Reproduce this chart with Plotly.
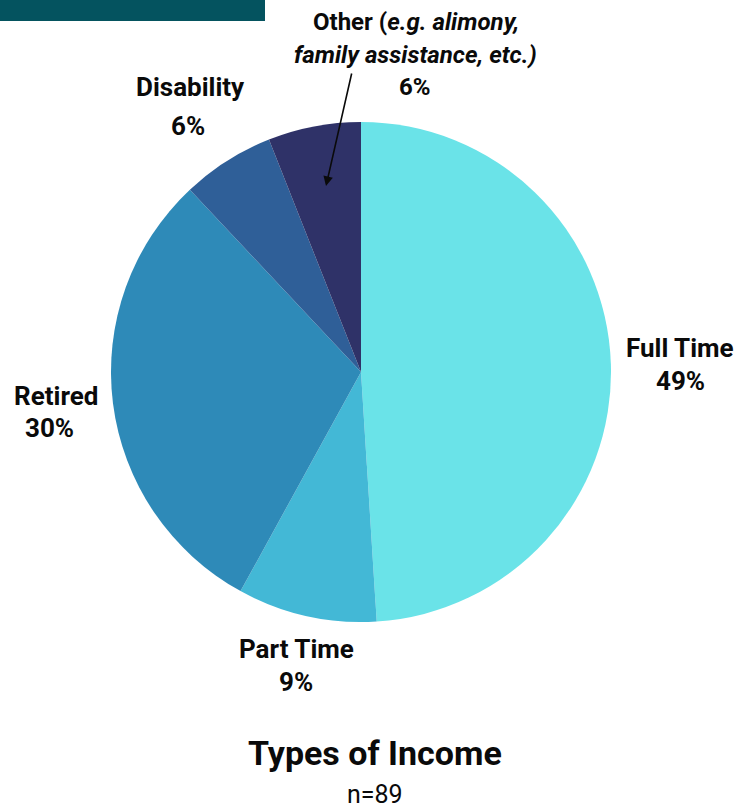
import plotly.graph_objects as go

# ---- data ----
categories = ["Full Time", "Part Time", "Retired", "Disability", "Other"]
percentages = [49, 9, 30, 6, 6]
colors = ["#6AE3E8", "#43B8D6", "#2E8AB8", "#2F5F98", "#2F3268"]
title_text = "Types of Income"
subtitle_text = "n=89"

W, H = 736, 811

def px(x):
    return x / W

def py(y):
    return 1 - y / H

fig = go.Figure()
fig.add_trace(go.Pie(
    labels=categories,
    values=percentages,
    sort=False,
    direction="clockwise",
    rotation=0,
    marker=dict(colors=colors, line=dict(width=0)),
    textinfo="none",
    hoverinfo="label+percent",
    showlegend=False,
    domain=dict(x=[px(111), px(611)], y=[py(622), py(122)]),
))

annotations = []
TXT = "#0a0a0a"

def label(x, y, text, size=26):
    annotations.append(dict(
        x=px(x), y=py(y), xref="paper", yref="paper",
        text=text, showarrow=False, xanchor="center", yanchor="middle",
        font=dict(family="Roboto", size=size, color=TXT),
    ))

# Full Time
label(680, 348, f"<b>{categories[0]}</b>")
label(680, 381, f"<b>{percentages[0]}%</b>")
# Part Time
label(296, 649, f"<b>{categories[1]}</b>")
label(296, 682, f"<b>{percentages[1]}%</b>")
# Retired
label(56, 396, f"<b>{categories[2]}</b>")
label(49, 428, f"<b>{percentages[2]}%</b>")
# Disability
label(190, 87, f"<b>{categories[3]}</b>")
label(188, 126, f"<b>{percentages[3]}%</b>")
# Other
label(416, 22, f"<b>{categories[4]} (<i>e.g. alimony,</i></b>", size=24)
label(415, 55, "<b><i>family assistance, etc.)</i></b>", size=24)
label(415, 87, f"<b>{percentages[4]}%</b>", size=24)

# title and subtitle
annotations.append(dict(x=px(375), y=py(753), xref="paper", yref="paper",
                        text=f"<b>{title_text}</b>", showarrow=False,
                        xanchor="center", yanchor="middle",
                        font=dict(family="Roboto", size=34, color=TXT)))
annotations.append(dict(x=px(375), y=py(794), xref="paper", yref="paper",
                        text=subtitle_text, showarrow=False,
                        xanchor="center", yanchor="middle",
                        font=dict(family="Roboto", size=25, color=TXT)))

# arrow pointing into "Other" slice
annotations.append(dict(x=px(326), y=py(186), xref="paper", yref="paper",
                        ax=26, ay=-114, axref="pixel", ayref="pixel",
                        text="", showarrow=True, arrowhead=2, arrowsize=1.2,
                        arrowwidth=1.6, arrowcolor=TXT))

fig.update_layout(
    width=W, height=H,
    margin=dict(l=0, r=0, t=0, b=0),
    paper_bgcolor="white",
    plot_bgcolor="white",
    annotations=annotations,
    shapes=[dict(type="rect", xref="paper", yref="paper",
                 x0=0, x1=px(265), y0=py(21), y1=1,
                 fillcolor="#04535F", line=dict(width=0), layer="above")],
)

fig.write_html("out.html",
               config={"displayModeBar": False},
               post_script="document.body.style.margin='0';document.body.style.overflow='hidden';")
